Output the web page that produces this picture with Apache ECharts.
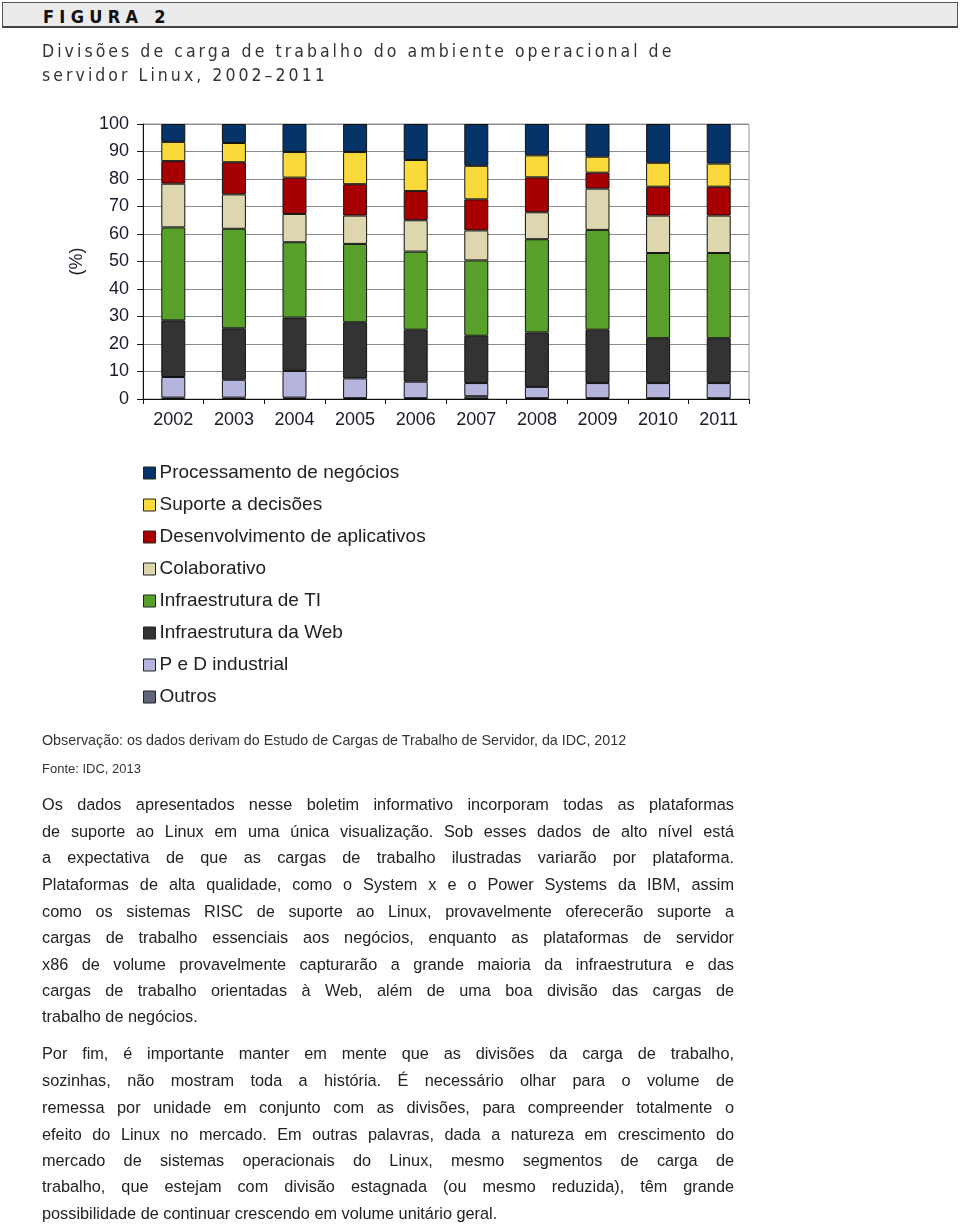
<!DOCTYPE html>
<html><head><meta charset="utf-8">
<script src="https://cdn.jsdelivr.net/npm/echarts@6/dist/echarts.min.js"></script>
<style>
html,body{margin:0;padding:0;background:#fff;}
#page{position:relative;width:960px;height:1225px;overflow:hidden;font-family:"Liberation Sans",Arial,sans-serif;}
#chart{position:absolute;left:0;top:0;width:960px;height:1225px;}
.abs{position:absolute;}
#hdr{left:2px;top:2px;width:954px;height:23px;background:#ebebeb;border:1px solid #555;border-bottom:2px solid #444;}
#hdr span{position:absolute;left:40px;top:3px;font-family:"Liberation Sans Narrow","DejaVu Sans Condensed",sans-serif;font-weight:bold;font-size:18px;letter-spacing:5.3px;color:#111;}
.sub{left:42px;font-family:"Liberation Sans Narrow","DejaVu Sans Condensed",sans-serif;font-size:17.5px;letter-spacing:3.05px;color:#333;white-space:nowrap;}
.note{left:42px;color:#333;white-space:nowrap;}
.ln{left:42px;width:692px;font-size:16.3px;color:#222;text-align:justify;text-align-last:justify;white-space:nowrap;line-height:20px;}
.ln.last{text-align-last:left;}
</style></head>
<body><div id="page">
<div id="chart"></div>
<div id="hdr" class="abs"><span>FIGURA 2</span></div>
<div class="abs sub" style="top:41px">Divisões de carga de trabalho do ambiente operacional de</div>
<div class="abs sub" style="top:65px">servidor Linux, 2002–2011</div>
<div class="abs note" style="top:732px;font-size:14.3px">Observação: os dados derivam do Estudo de Cargas de Trabalho de Servidor, da IDC, 2012</div>
<div class="abs note" style="top:761px;font-size:13px">Fonte: IDC, 2013</div>
<div id="body"></div>
</div>
<script>
const categories = ['2002','2003','2004','2005','2006','2007','2008','2009','2010','2011'];
const outros      = [0.5, 0.5, 0.5, 0.3, 0.3, 1.0, 0.3, 0.3, 0.3, 0.3];
const pdIndustrial= [7.5, 6.5, 9.7, 7.2, 6.0, 4.8, 4.1, 5.5, 5.5, 5.5];
const infraWeb    = [20.6, 18.7, 19.4, 20.4, 18.9, 17.2, 19.8, 19.4, 16.3, 16.3];
const infraTI     = [33.8, 36.2, 27.4, 28.5, 28.4, 27.4, 33.9, 36.3, 31.0, 31.0];
const colaborativo= [15.9, 12.5, 10.3, 10.3, 11.4, 10.9, 9.8, 15.0, 13.6, 13.6];
const desenvApps  = [8.2, 11.7, 13.2, 11.4, 10.6, 11.3, 12.7, 5.8, 10.5, 10.5];
const suporteDec  = [7.0, 7.0, 9.3, 11.7, 11.3, 12.2, 8.0, 5.8, 8.7, 8.4];
const procNeg     = [6.5, 6.9, 10.2, 10.2, 13.1, 15.2, 11.4, 11.9, 14.1, 14.4];
const yTicks = [0,10,20,30,40,50,60,70,80,90,100];

const seriesDefs = [
  ['Outros', outros, '#5f6677'],
  ['P e D industrial', pdIndustrial, '#b4b4dc'],
  ['Infraestrutura da Web', infraWeb, '#333333'],
  ['Infraestrutura de TI', infraTI, '#58a02a'],
  ['Colaborativo', colaborativo, '#ded6ae'],
  ['Desenvolvimento de aplicativos', desenvApps, '#a80000'],
  ['Suporte a decisões', suporteDec, '#f9da3a'],
  ['Processamento de negócios', procNeg, '#063468']
];

const bodyLines = [
 ['Os dados apresentados nesse boletim informativo incorporam todas as plataformas',804,0],
 ['de suporte ao Linux em uma única visualização. Sob esses dados de alto nível está',831,0],
 ['a expectativa de que as cargas de trabalho ilustradas variarão por plataforma.',857,0],
 ['Plataformas de alta qualidade, como o System x e o Power Systems da IBM, assim',884,0],
 ['como os sistemas RISC de suporte ao Linux, provavelmente oferecerão suporte a',911,0],
 ['cargas de trabalho essenciais aos negócios, enquanto as plataformas de servidor',937,0],
 ['x86 de volume provavelmente capturarão a grande maioria da infraestrutura e das',964,0],
 ['cargas de trabalho orientadas à Web, além de uma boa divisão das cargas de',990,0],
 ['trabalho de negócios.',1016,1],
 ['Por fim, é importante manter em mente que as divisões da carga de trabalho,',1053,0],
 ['sozinhas, não mostram toda a história. É necessário olhar para o volume de',1080,0],
 ['remessa por unidade em conjunto com as divisões, para compreender totalmente o',1107,0],
 ['efeito do Linux no mercado. Em outras palavras, dada a natureza em crescimento do',1134,0],
 ['mercado de sistemas operacionais do Linux, mesmo segmentos de carga de',1160,0],
 ['trabalho, que estejam com divisão estagnada (ou mesmo reduzida), têm grande',1186,0],
 ['possibilidade de continuar crescendo em volume unitário geral.',1213,1]
];
const body = document.getElementById('body');
bodyLines.forEach(([t,y,last])=>{
  const d=document.createElement('div');
  d.className='abs ln'+(last?' last':'');
  d.style.top=(y-10)+'px';
  d.textContent=t;
  body.appendChild(d);
});

const chart = echarts.init(document.getElementById('chart'), null, {renderer:'canvas'});
const font = '"Liberation Sans", Arial, sans-serif';
chart.setOption({
  animation:false,
  backgroundColor:'transparent',
  grid:{left:143,right:211,top:124,bottom:826,show:true,borderColor:'#999',borderWidth:1,containLabel:false},
  legend:{
    orient:'vertical',left:138,top:458,itemGap:12,itemWidth:12,itemHeight:12,
    icon:'rect',
    data:['Processamento de negócios','Suporte a decisões','Desenvolvimento de aplicativos','Colaborativo','Infraestrutura de TI','Infraestrutura da Web','P e D industrial','Outros'],
    textStyle:{fontFamily:font,fontSize:19,color:'#222',lineHeight:20,padding:[0,0,0,-1]},
    itemStyle:{borderColor:'#222',borderWidth:1}
  },
  xAxis:{
    type:'category',data:categories,
    axisLine:{lineStyle:{color:'#111',width:1}},
    axisTick:{show:true,alignWithLabel:false,length:5,lineStyle:{color:'#111'}},
    axisLabel:{fontFamily:font,fontSize:18,color:'#1a1a2a',margin:12}
  },
  yAxis:{
    type:'value',min:0,max:100,interval:10,
    name:'(%)',nameLocation:'middle',nameGap:57,nameRotate:90,
    nameTextStyle:{fontFamily:font,fontSize:18,color:'#1a1a2a'},
    axisLine:{show:true,lineStyle:{color:'#111',width:1}},
    axisTick:{show:true,length:6,lineStyle:{color:'#111'}},
    axisLabel:{fontFamily:font,fontSize:18,color:'#1a1a2a',margin:14,
      formatter:v=>yTicks.includes(v)?String(v):''},
    splitLine:{show:true,lineStyle:{color:'#8a8a8a',width:1}}
  },
  series: seriesDefs.map(([name,data,color])=>({
    name,type:'bar',stack:'total',data,barWidth:24,
    itemStyle:{color,borderColor:'#111',borderWidth:1}
  }))
});
</script>
</body></html>
